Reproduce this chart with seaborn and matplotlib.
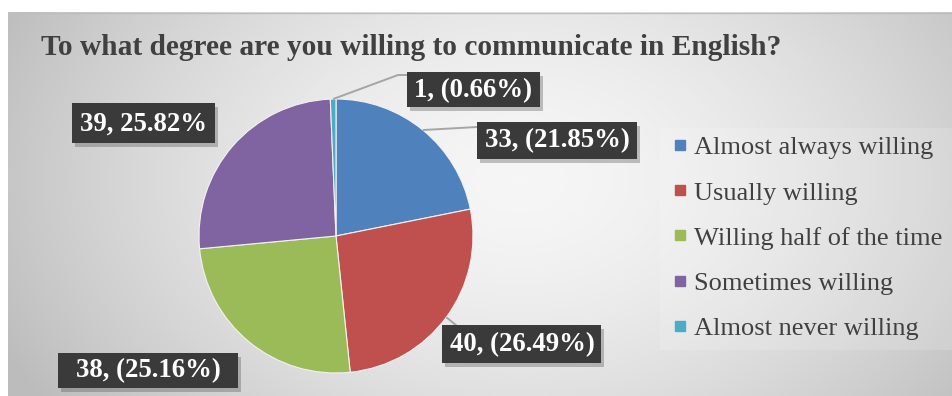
import numpy as np
import matplotlib
matplotlib.use("Agg")
import matplotlib.pyplot as plt
import matplotlib.patheffects as pe
from matplotlib.patches import Rectangle
from matplotlib.lines import Line2D
import seaborn as sns

# ---------------- data ----------------
title = "To what degree are you willing to communicate in English?"
categories = ["Almost always willing", "Usually willing", "Willing half of the time",
              "Sometimes willing", "Almost never willing"]
counts = [33, 40, 38, 39, 1]
label_texts = ["33, (21.85%)", "40, (26.49%)", "38, (25.16%)", "39, 25.82%", "1, (0.66%)"]
colors_hex = ["#4F81BD", "#C0504D", "#9BBB59", "#8064A2", "#4BACC6"]

# ---------------- style ----------------
sns.set_theme(style="white")
plt.rcParams["font.family"] = ["Liberation Serif", "DejaVu Serif"]
palette = sns.color_palette(colors_hex)

W, H = 953, 396
fig = plt.figure(figsize=(W / 100, H / 100), dpi=100)
fig.patch.set_facecolor("white")

# background gradient panel
ax_bg = fig.add_axes([0, 0, 1, 1], zorder=0)
ax_bg.set_xlim(0, W); ax_bg.set_ylim(H, 0); ax_bg.axis("off")
xs = np.arange(8, W) + 0.5
ys = np.arange(12, H) + 0.5
X, Y = np.meshgrid(xs, ys)
d = np.sqrt(((X - 520) / 480) ** 2 + ((Y - 180) / 330) ** 2)
L = np.clip(0.965 - 0.17 * d ** 1.6, 0.74, 1.0)
img = np.dstack([L, L, L])
ax_bg.imshow(img, extent=(8, W, H, 12), aspect="auto", interpolation="bilinear")
ax_bg.plot([8, W], [12.5, 12.5], color="#bdbdbd", lw=1)
# legend panel (slightly lighter)
ax_bg.add_patch(Rectangle((660, 128), W - 660, 222, facecolor="white", alpha=0.15,
                          edgecolor="none"))

# pie axes
cx, cy, r = 336, 236, 137
ax = fig.add_axes([(cx - r) / W, (H - cy - r) / H, 2 * r / W, 2 * r / H], zorder=2)
wedges, _ = ax.pie(counts, colors=palette, startangle=90, counterclock=False,
                   radius=1.0, wedgeprops=dict(edgecolor="#f2f2f2", linewidth=0.8))
ax.set_xlim(-1, 1); ax.set_ylim(-1, 1); ax.set_aspect("equal")
ax.axis("off")

# overlay axes in pixel coordinates
ov = fig.add_axes([0, 0, 1, 1], zorder=3)
ov.set_xlim(0, W); ov.set_ylim(H, 0); ov.axis("off")
ov.patch.set_alpha(0)

ov.text(41, 55, title, fontsize=21.2, fontweight="bold", color="#404040",
        va="baseline", ha="left")

# label layout: (center x, center y, box width, box height) in pixels
box_layout = [(557, 140, 160, 37), (522, 344, 159, 38), (148, 370, 180, 35),
              (143.5, 123, 143, 40), (473.5, 89.5, 133, 35)]
# leader line elbow points (None = no leader)
leaders = [[(477, 127)], [(457, 326)], None, None, [(398, 75), (407, 75)]]

def pie_point(theta_deg, rad=1.0):
    t = np.deg2rad(theta_deg)
    p = ax.transData.transform((rad * np.cos(t), rad * np.sin(t)))
    return ov.transData.inverted().transform(p)

for w, txt, (bx, by, bw, bh), lead in zip(wedges, label_texts, box_layout, leaders):
    mid = (w.theta1 + w.theta2) / 2
    if lead is not None:
        ax_pt = pie_point(mid, 1.0)
        pts = [tuple(ax_pt)] + lead
        ov.plot([p[0] for p in pts], [p[1] for p in pts], color="#a5a5a5", lw=1.4,
                zorder=1, solid_capstyle="butt")
    rect = Rectangle((bx - bw / 2, by - bh / 2), bw, bh, facecolor="#3a3a3a",
                     edgecolor="none", zorder=2)
    rect.set_path_effects([pe.SimplePatchShadow(offset=(2, -3), alpha=0.35,
                                                shadow_rgbFace="#555555"), pe.Normal()])
    ov.add_patch(rect)
    ov.text(bx, by + 1, txt, color="white", fontsize=19.3, fontweight="bold",
            ha="center", va="center", zorder=3)

# legend
handles = [Line2D([], [], marker="s", linestyle="", markersize=7.5,
                  markerfacecolor=c, markeredgecolor=c) for c in palette]
leg = ov.legend(handles, categories, loc="upper left", bbox_to_anchor=(673, 136),
                bbox_transform=ov.transData, frameon=False, fontsize=19,
                handlelength=0.5, handletextpad=0.3, labelspacing=0.82,
                borderpad=0, borderaxespad=0, labelcolor="#404040")

fig.savefig("out.png", dpi=100)
